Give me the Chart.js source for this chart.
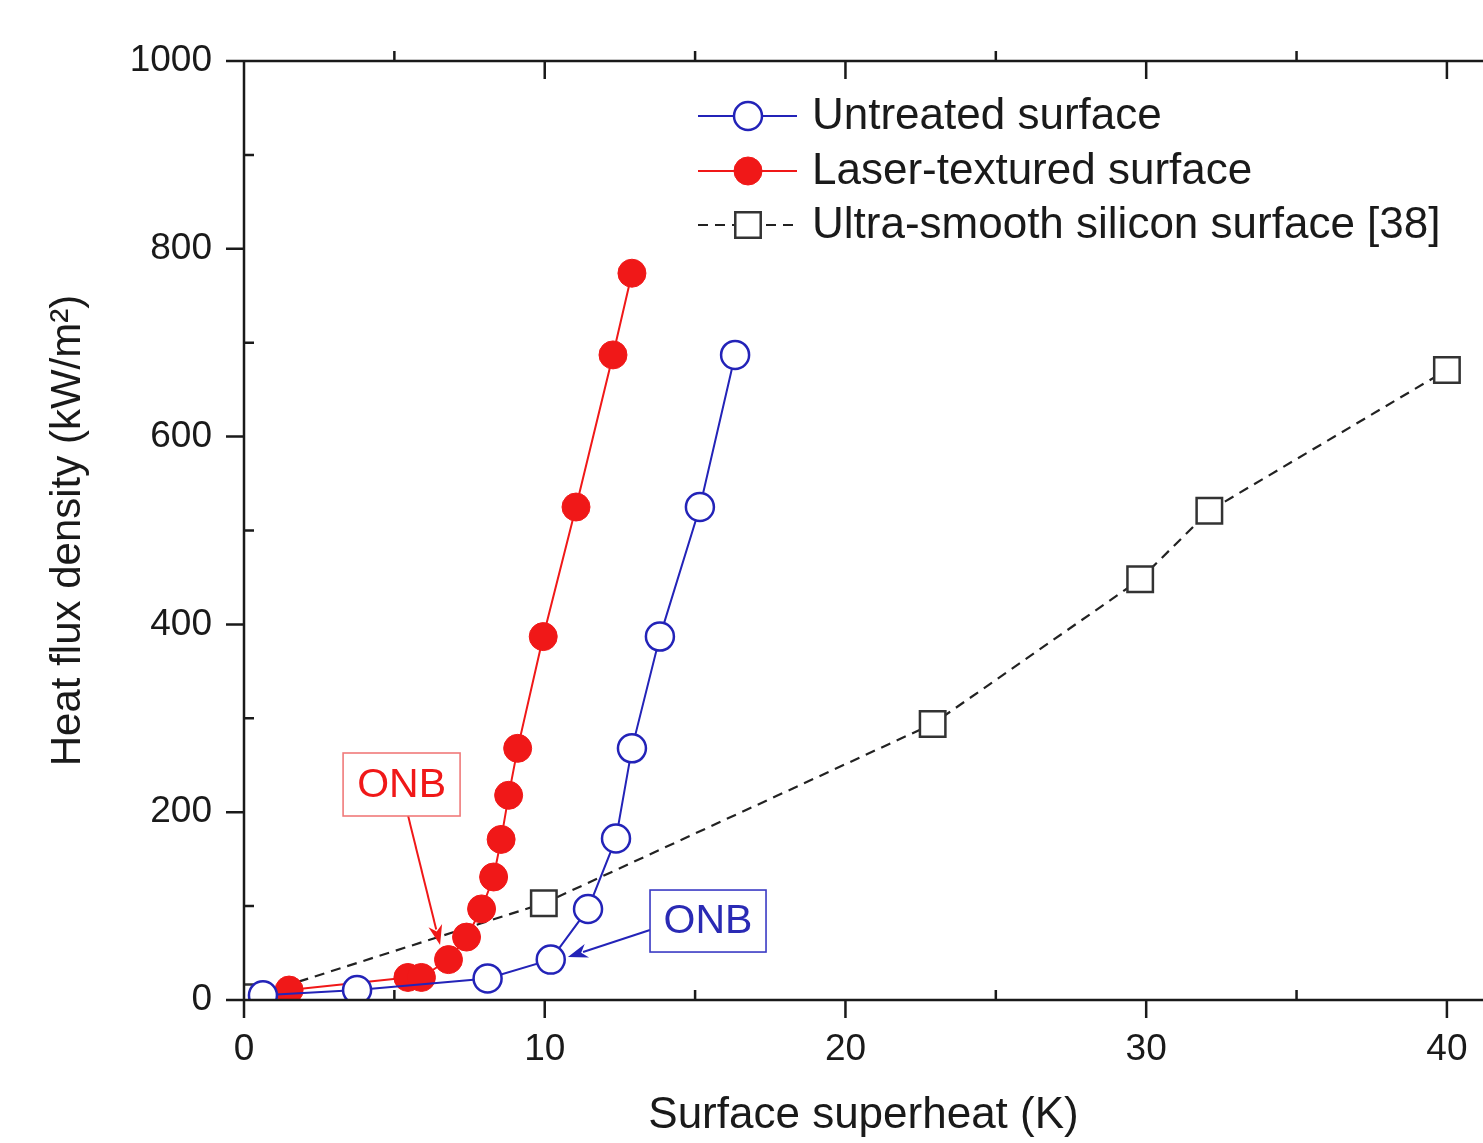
<!DOCTYPE html>
<html><head><meta charset="utf-8">
<script src="https://cdn.jsdelivr.net/npm/chart.js@4/dist/chart.umd.min.js"></script>
<style>html,body{margin:0;padding:0;background:#fff;overflow:hidden;}#wrap{width:1483px;height:1143px;}</style>
</head><body><div id="wrap"><canvas id="c" width="1483" height="1143"></canvas></div>
<script>
// ---- data ----
const untreatedX = [0.63, 3.76, 8.1, 10.2, 11.44, 12.37, 12.9, 13.83, 15.16, 16.33];
const untreatedY = [5, 10.6, 23, 43, 97, 172, 268, 387, 525, 687];
const laserX = [1.5, 5.45, 5.9, 6.8, 7.4, 7.9, 8.3, 8.55, 8.8, 9.1, 9.95, 11.04, 12.27, 12.9];
const laserY = [10.6, 24, 24, 43, 67, 97, 131, 171, 218, 268, 387, 525, 687, 774];
const smoothX = [0.2, 9.97, 22.9, 29.8, 32.1, 40];
const smoothY = [3, 103, 294, 448, 521, 671];
const xTicks = [0, 10, 20, 30, 40];
const yTicks = [0, 200, 400, 600, 800, 1000];
const seriesNames = ['Untreated surface', 'Laser-textured surface', 'Ultra-smooth silicon surface [38]'];
const xTitle = 'Surface superheat (K)';
const yTitle = 'Heat flux density (kW/m²)';
const annotationText = 'ONB';

const FONT = "'Liberation Sans', Arial, sans-serif";
const INK = '#1a1a1a';
const BLUE = '#2323b8';
const RED = '#f01818';

const pts = (xs, ys) => xs.map((x, i) => ({x, y: ys[i]}));

const framePlugin = {
  id: 'frame',
  afterDatasetsDraw(chart) {
    const {ctx, chartArea: {left, right, top, bottom}, scales: {x, y}} = chart;
    const edge = chart.width;
    ctx.save();
    ctx.strokeStyle = INK; ctx.lineWidth = 2.5; ctx.lineCap = 'butt';
    ctx.beginPath();
    ctx.moveTo(left - 1, top); ctx.lineTo(edge, top);
    ctx.moveTo(left - 1, bottom); ctx.lineTo(edge, bottom);
    ctx.moveTo(left, top); ctx.lineTo(left, bottom);
    const MAJ = 18, MIN = 10;
    xTicks.forEach((v) => {
      const px = x.getPixelForValue(v);
      ctx.moveTo(px, bottom); ctx.lineTo(px, bottom + MAJ);
      ctx.moveTo(px, top); ctx.lineTo(px, top + MAJ);
      const pm = x.getPixelForValue(v + (xTicks[1] - xTicks[0]) / 2);
      if (pm < edge) {
        ctx.moveTo(pm, bottom); ctx.lineTo(pm, bottom - MIN);
        ctx.moveTo(pm, top); ctx.lineTo(pm, top - MIN);
      }
    });
    yTicks.forEach((v, i) => {
      const py = y.getPixelForValue(v);
      ctx.moveTo(left, py); ctx.lineTo(left - MAJ, py);
      if (i < yTicks.length - 1) {
        const pm = y.getPixelForValue(v + (yTicks[1] - yTicks[0]) / 2);
        ctx.moveTo(left, pm); ctx.lineTo(left + MIN, pm);
      }
    });
    ctx.stroke();
    ctx.restore();
  }
};

function arrow(ctx, x1, y1, x2, y2, color) {
  const ang = Math.atan2(y2 - y1, x2 - x1);
  const L = 20, W = 7;
  ctx.strokeStyle = color; ctx.fillStyle = color; ctx.lineWidth = 2;
  ctx.beginPath();
  ctx.moveTo(x1, y1);
  ctx.lineTo(x2 - Math.cos(ang) * L * 0.8, y2 - Math.sin(ang) * L * 0.8);
  ctx.stroke();
  ctx.beginPath();
  ctx.moveTo(x2, y2);
  ctx.lineTo(x2 - Math.cos(ang) * L - Math.sin(ang) * W, y2 - Math.sin(ang) * L + Math.cos(ang) * W);
  ctx.lineTo(x2 - Math.cos(ang) * L * 0.7, y2 - Math.sin(ang) * L * 0.7);
  ctx.lineTo(x2 - Math.cos(ang) * L + Math.sin(ang) * W, y2 - Math.sin(ang) * L - Math.cos(ang) * W);
  ctx.closePath();
  ctx.fill();
}

const annotPlugin = {
  id: 'annot',
  afterDatasetsDraw(chart) {
    const {ctx, scales: {x, y}} = chart;
    const items = [
      {cx: 5.24, cy: 229.5, w: 117, h: 63, from: [5.45, 197], to: [6.52, 58.6], text: RED, border: '#f07a7a', line: RED},
      {cx: 15.43, cy: 84.1, w: 116, h: 62, from: [13.5, 74.5], to: [10.77, 45.8], text: '#2a2ab4', border: '#3a3ac4', line: BLUE}
    ];
    ctx.save();
    items.forEach(it => {
      arrow(ctx, x.getPixelForValue(it.from[0]), y.getPixelForValue(it.from[1]),
            x.getPixelForValue(it.to[0]), y.getPixelForValue(it.to[1]), it.line);
      const px = x.getPixelForValue(it.cx), py = y.getPixelForValue(it.cy);
      ctx.fillStyle = '#fff';
      ctx.fillRect(px - it.w / 2, py - it.h / 2, it.w, it.h);
      ctx.strokeStyle = it.border; ctx.lineWidth = 1.6;
      ctx.strokeRect(px - it.w / 2, py - it.h / 2, it.w, it.h);
      ctx.fillStyle = it.text;
      ctx.font = `41px ${FONT}`;
      ctx.textAlign = 'center'; ctx.textBaseline = 'middle';
      ctx.fillText(annotationText, px, py + 1);
    });
    ctx.restore();
  }
};

const legendPlugin = {
  id: 'customLegend',
  afterDraw(chart) {
    const {ctx} = chart;
    const rows = [116, 171, 225];
    const x0 = 698, x1 = 797, xm = 748, tx = 812;
    ctx.save();
    chart.data.datasets.forEach((ds, i) => {
      const yy = rows[i];
      ctx.strokeStyle = ds.borderColor; ctx.lineWidth = ds.borderWidth;
      ctx.setLineDash(ds.borderDash || []);
      ctx.beginPath(); ctx.moveTo(x0, yy); ctx.lineTo(x1, yy); ctx.stroke();
      ctx.setLineDash([]);
      ctx.lineWidth = ds.pointBorderWidth;
      ctx.strokeStyle = ds.pointBorderColor; ctx.fillStyle = ds.pointBackgroundColor;
      ctx.beginPath();
      if (ds.pointStyle === 'rect') {
        const s = ds.pointRadius * Math.SQRT1_2;
        ctx.rect(xm - s, yy - s, 2 * s, 2 * s);
      } else {
        ctx.arc(xm, yy, ds.pointRadius, 0, Math.PI * 2);
      }
      ctx.fill(); ctx.stroke();
      ctx.fillStyle = INK;
      ctx.font = `44px ${FONT}`;
      ctx.textAlign = 'left'; ctx.textBaseline = 'middle';
      ctx.fillText(ds.label, tx, yy + 1);
    });
    ctx.restore();
  }
};

new Chart(document.getElementById('c'), {
  type: 'scatter',
  data: {
    datasets: [
      {label: seriesNames[0], data: pts(untreatedX, untreatedY), showLine: true,
       borderColor: BLUE, borderWidth: 2, tension: 0,
       pointStyle: 'circle', pointRadius: 14, pointHoverRadius: 14,
       pointBackgroundColor: '#ffffff', pointBorderColor: BLUE, pointBorderWidth: 2.5, order: 1},
      {label: seriesNames[1], data: pts(laserX, laserY), showLine: true,
       borderColor: RED, borderWidth: 2, tension: 0,
       pointStyle: 'circle', pointRadius: 14, pointHoverRadius: 14,
       pointBackgroundColor: RED, pointBorderColor: RED, pointBorderWidth: 1, order: 2},
      {label: seriesNames[2], data: pts(smoothX, smoothY), showLine: true,
       borderColor: '#222222', borderWidth: 2.2, borderDash: [10, 7], tension: 0,
       pointStyle: 'rect', pointRadius: 18, pointHoverRadius: 18,
       pointBackgroundColor: '#ffffff', pointBorderColor: '#333333', pointBorderWidth: 2.5, order: 3}
    ]
  },
  options: {
    responsive: false,
    animation: false,
    events: [],
    layout: {autoPadding: false, padding: {top: 61, right: 0, left: 0, bottom: 0}},
    plugins: {legend: {display: false}, tooltip: {enabled: false}},
    scales: {
      x: {
        type: 'linear', min: 0, max: 41.2,
        afterBuildTicks: s => { s.ticks = xTicks.map(v => ({value: v})); },
        afterFit: s => { s.height = 143; },
        grid: {display: false, drawTicks: true, tickLength: 28},
        border: {display: false},
        ticks: {font: {family: FONT, size: 37}, color: INK, padding: 0, maxRotation: 0, autoSkip: false,
                callback: v => String(v)},
        title: {display: true, text: xTitle, font: {family: FONT, size: 44}, color: INK, padding: {top: 0, bottom: 1}}
      },
      y: {
        type: 'linear', min: 0, max: 1000,
        afterBuildTicks: s => { s.ticks = yTicks.map(v => ({value: v})); },
        afterFit: s => { s.width = 244; },
        grid: {display: false, drawTicks: true, tickLength: 32},
        border: {display: false},
        ticks: {font: {family: FONT, size: 37}, color: INK, padding: 0, autoSkip: false,
                callback: v => String(v)},
        title: {display: true, text: yTitle, font: {family: FONT, size: 42}, color: INK, padding: {top: 43, bottom: 0}}
      }
    }
  },
  plugins: [framePlugin, annotPlugin, legendPlugin]
});
</script>
</body></html>
